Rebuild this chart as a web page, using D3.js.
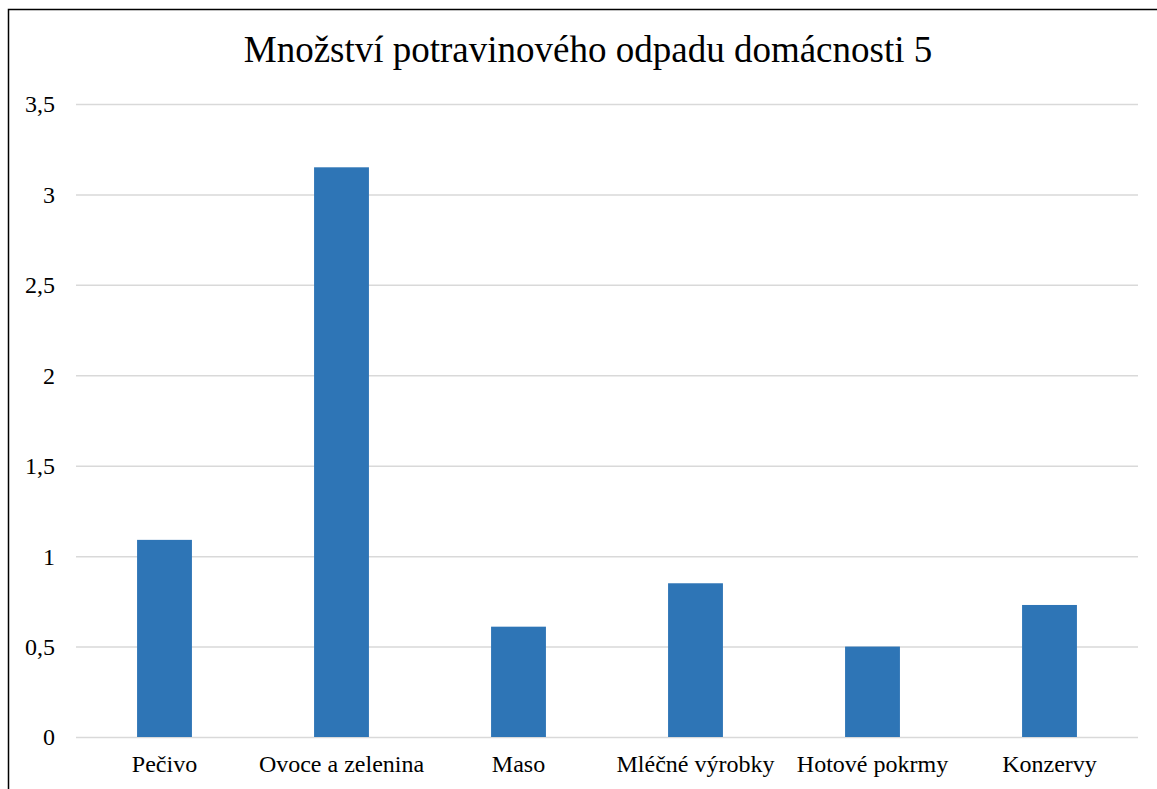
<!DOCTYPE html>
<html>
<head>
<meta charset="utf-8">
<script src="https://cdn.jsdelivr.net/npm/d3@7"></script>
<style>
  body { margin: 0; background: #fff; }
</style>
</head>
<body>
<div id="chart"></div>
<script>
var categories = ['Pečivo', 'Ovoce a zelenina', 'Maso', 'Mléčné výrobky', 'Hotové pokrmy', 'Konzervy'];
var values = [1.09, 3.15, 0.61, 0.85, 0.5, 0.73];
var yTicks = [0, 0.5, 1, 1.5, 2, 2.5, 3, 3.5];
var title = 'Množství potravinového odpadu domácnosti 5';

var W = 1157, H = 789;
var plot = {left: 76, right: 1138, top: 104, bottom: 737};
var serif = "Liberation Serif";

var svg = d3.select('#chart').append('svg')
    .attr('width', W)
    .attr('height', H)
    .attr('font-family', serif);

// chart frame, runs off the right and bottom edges
svg.append('rect')
    .attr('x', 8.5).attr('y', 9.5)
    .attr('width', W).attr('height', H)
    .attr('fill', 'none')
    .attr('stroke', '#000')
    .attr('stroke-width', 1.5);

var x = d3.scaleBand()
    .domain(categories)
    .range([plot.left, plot.right])
    .paddingInner(0.69)
    .paddingOuter(0.345);

var y = d3.scaleLinear()
    .domain([0, 3.5])
    .range([plot.bottom, plot.top]);

var fmt = function(d) { return String(d).replace('.', ','); };

// gridlines
svg.append('g')
    .selectAll('line')
    .data(yTicks)
    .enter().append('line')
    .attr('x1', plot.left).attr('x2', plot.right)
    .attr('y1', function(d) { return y(d) + 0.5; })
    .attr('y2', function(d) { return y(d) + 0.5; })
    .attr('stroke', '#d9d9d9')
    .attr('stroke-width', 1.5);

// y tick labels
svg.append('g')
    .selectAll('text')
    .data(yTicks)
    .enter().append('text')
    .attr('x', 55)
    .attr('y', function(d) { return y(d); })
    .attr('dy', '0.35em')
    .attr('text-anchor', 'end')
    .attr('font-size', 24)
    .text(fmt);

// bars
svg.append('g')
    .selectAll('rect')
    .data(values)
    .enter().append('rect')
    .attr('x', function(d, i) { return x(categories[i]); })
    .attr('width', x.bandwidth())
    .attr('y', function(d) { return y(d); })
    .attr('height', function(d) { return y(0) - y(d); })
    .attr('fill', '#2e75b6');

// category labels
svg.append('g')
    .selectAll('text')
    .data(categories)
    .enter().append('text')
    .attr('x', function(d) { return x(d) + x.bandwidth() / 2; })
    .attr('y', 772)
    .attr('text-anchor', 'middle')
    .attr('font-size', 24)
    .text(function(d) { return d; });

svg.append('text')
    .attr('x', 588)
    .attr('y', 62)
    .attr('text-anchor', 'middle')
    .attr('font-size', 37)
    .text(title);
</script>
</body>
</html>
